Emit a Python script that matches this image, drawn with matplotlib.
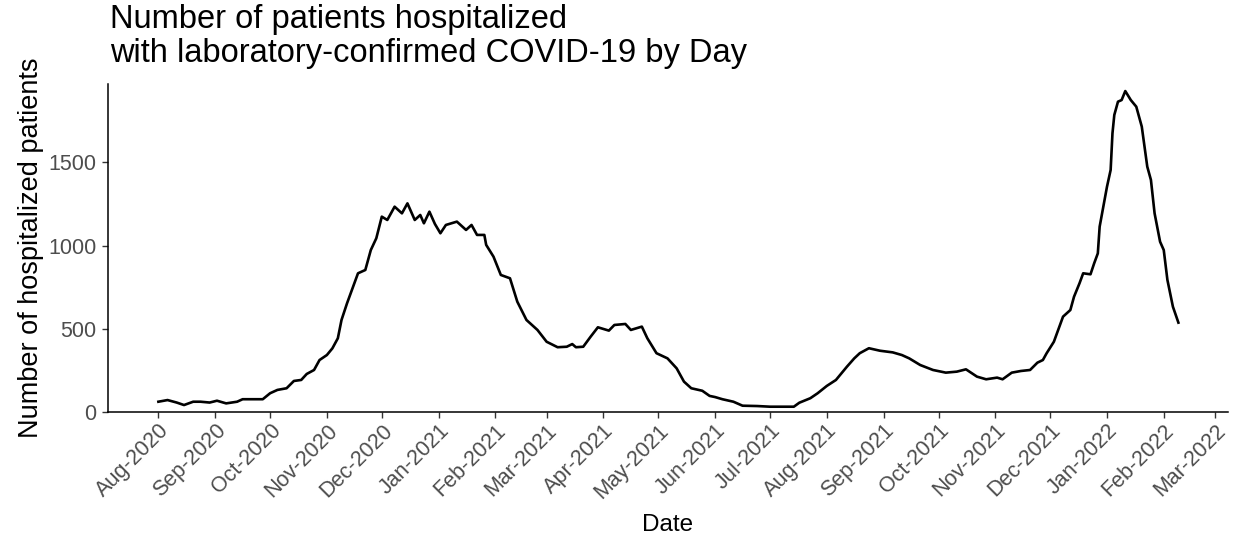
import numpy as np
import pandas as pd
import matplotlib
matplotlib.use("Agg")
import matplotlib.pyplot as plt
import matplotlib.dates as mdates

plt.rcParams['font.family'] = ['Liberation Sans', 'DejaVu Sans']

# data (days after 2020-08-01, hospitalized patients)
start_date = "2020-08-01"
day_offset = [0, 5, 10, 14, 19, 23, 28, 32, 37, 43, 46, 57, 61, 65, 70, 74, 78, 81, 85, 88,
              92, 95, 98, 100, 103, 106, 109, 113, 116, 119, 122, 125, 129, 133, 136, 140, 143, 145, 148, 151,
              154, 157, 163, 168, 171, 174, 178, 179, 183, 187, 192, 196, 201, 207, 212, 218, 223, 226, 228, 232,
              236, 240, 246, 249, 255, 258, 264, 267, 272, 278, 283, 287, 291, 297, 301, 304, 308, 314, 319, 327,
              334, 340, 347, 350, 356, 360, 365, 370, 376, 380, 383, 388, 394, 401, 406, 410, 416, 423, 430, 436,
              441, 447, 452, 458, 461, 466, 471, 476, 480, 483, 485, 489, 491, 494, 498, 500, 503, 505, 509, 511,
              513, 514, 516, 518, 520, 521, 522, 524, 526, 528, 531, 534, 537, 540, 542, 544, 547, 549, 551, 554,
              557]
patients = [60, 70, 55, 40, 60, 60, 55, 66, 50, 60, 75, 75, 111, 131, 141, 185, 191, 227, 251, 311,
            341, 381, 442, 552, 652, 743, 833, 853, 973, 1044, 1174, 1154, 1234, 1194, 1254, 1154, 1184, 1134, 1204, 1130,
            1074, 1124, 1144, 1094, 1124, 1064, 1064, 1004, 933, 823, 803, 662, 552, 492, 421, 388, 391, 407, 388, 391,
            451, 508, 488, 522, 528, 492, 512, 442, 352, 321, 261, 181, 141, 126, 95, 88, 75, 60, 36, 34,
            30, 30, 30, 54, 81, 111, 155, 191, 271, 321, 352, 382, 367, 357, 341, 321, 281, 251, 235, 241,
            255, 211, 195, 205, 195, 235, 245, 251, 295, 311, 351, 421, 482, 572, 612, 692, 773, 833, 827, 893,
            953, 1114, 1234, 1354, 1455, 1676, 1786, 1866, 1876, 1930, 1876, 1836, 1716, 1475, 1395, 1194, 1023, 973, 793, 632,
            536]

dates = pd.Timestamp(start_date) + pd.to_timedelta(day_offset, unit="D")

fig = plt.figure(figsize=(12.36, 5.46), dpi=100)
ax = fig.add_axes([0.0874, 0.246, 0.906, 0.600])

ax.plot(dates, patients, color="black", lw=1.9)

ax.set_xlim(pd.Timestamp(start_date) - pd.Timedelta(days=27.5),
            pd.Timestamp(start_date) + pd.Timedelta(days=584))
ax.set_ylim(0, 1972)
ax.set_yticks([0, 500, 1000, 1500])

ax.xaxis.set_major_locator(mdates.MonthLocator())
ax.xaxis.set_major_formatter(mdates.DateFormatter("%b-%Y"))

for s in ["top", "right"]:
    ax.spines[s].set_visible(False)
for s in ["left", "bottom"]:
    ax.spines[s].set_linewidth(1.1)

ax.tick_params(axis="both", length=4.5, width=1.0, color="#333333",
               labelcolor="#4D4D4D", labelsize=15.5)
ax.tick_params(axis="y", pad=4)
ax.tick_params(axis="x", pad=1.5)
plt.setp(ax.get_xticklabels(), rotation=45, ha="right", va="top", rotation_mode="anchor")

ax.set_xlabel("Date", fontsize=17.5, labelpad=8)
ax.set_ylabel("Number of hospitalized patients", fontsize=19.5, labelpad=3)

fig.text(0.089, 0.992, "Number of patients hospitalized\nwith laboratory-confirmed COVID-19 by Day",
         fontsize=23.5, ha="left", va="top", linespacing=1.1)

fig.savefig("out.png", dpi=100)
